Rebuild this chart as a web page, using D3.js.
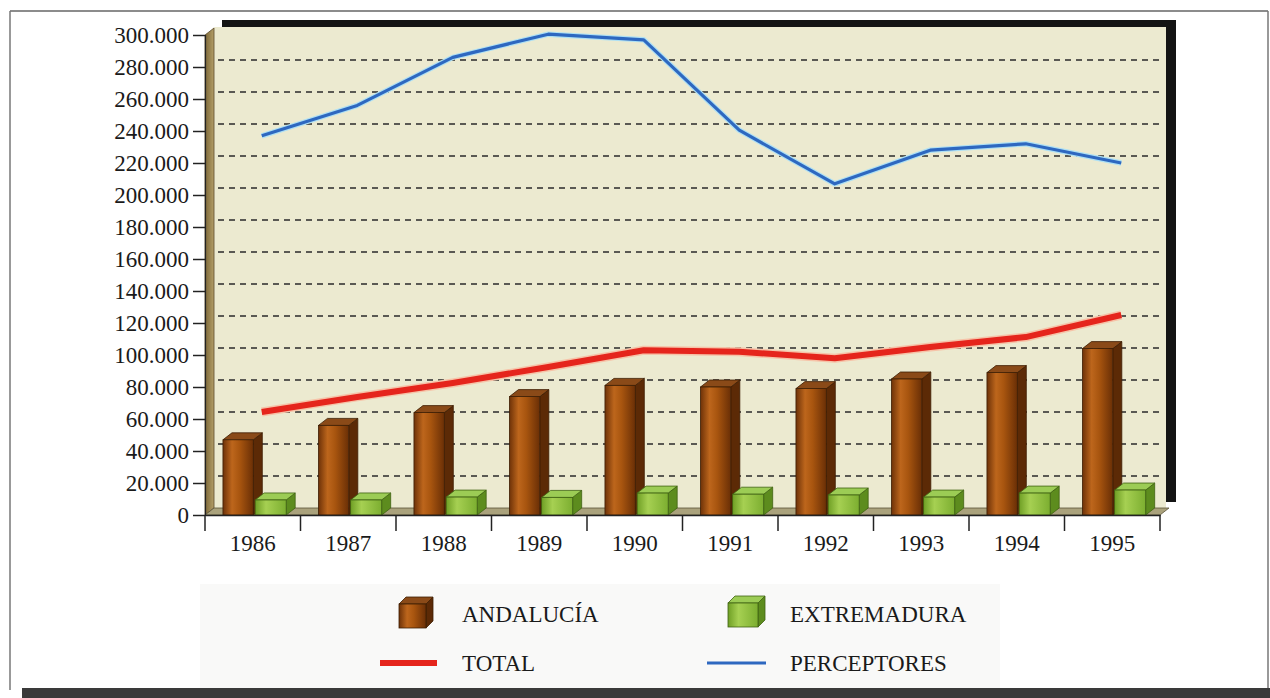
<!DOCTYPE html>
<html>
<head>
<meta charset="utf-8">
<script src="https://cdn.jsdelivr.net/npm/d3@7"></script>
<style>
  html, body { margin: 0; padding: 0; background: #ffffff; }
  svg { display: block; }
  text { font-family: "Liberation Serif", "DejaVu Serif", serif; fill: #1a1a1a; }
</style>
</head>
<body>
<svg id="chart" width="1270" height="698"></svg>
<script>
const years = ["1986","1987","1988","1989","1990","1991","1992","1993","1994","1995"];
const andalucia   = [47000, 56000, 64000, 74000, 81000, 80000, 79000, 85000, 89000, 104000];
const extremadura = [9400, 9400, 11200, 11000, 13700, 13000, 12500, 11200, 13700, 15600];
const total       = [64400, 73800, 82500, 92500, 103000, 102000, 98000, 105000, 111200, 125000];
const perceptores = [237000, 256000, 286000, 300500, 297000, 240500, 207000, 228000, 232000, 220000];
const yTicks = [0, 20000, 40000, 60000, 80000, 100000, 120000, 140000, 160000, 180000, 200000, 220000, 240000, 260000, 280000, 300000];
const legendLabels = ["ANDALUCÍA", "EXTREMADURA", "TOTAL", "PERCEPTORES"];

const svg = d3.select("#chart");
const esLocale = d3.formatLocale({ decimal: ",", thousands: ".", grouping: [3], currency: ["", "€"] });
const fmt = esLocale.format(",d");

const x = d3.scaleBand().domain(years).range([205, 1160]).padding(0);
const y = d3.scaleLinear().domain([0, 300000]).range([515, 35]);
const bw = x.bandwidth();
const DX = 9, DY = 7;
const FS = 23;

const defs = svg.append("defs");
function hGrad(id, stops) {
  const g = defs.append("linearGradient").attr("id", id).attr("x1", "0%").attr("x2", "100%").attr("y1", "0%").attr("y2", "0%");
  stops.forEach(s => g.append("stop").attr("offset", s[0]).attr("stop-color", s[1]));
}
hGrad("brownFront", [["0%", "#6e3208"], ["30%", "#bd661c"], ["55%", "#a8550f"], ["100%", "#6a2f06"]]);
hGrad("greenFront", [["0%", "#6f9f25"], ["35%", "#a6d052"], ["100%", "#7cae30"]]);
hGrad("leftWall", [["0%", "#7d6838"], ["100%", "#b39e68"]]);

// outer frame
svg.append("line").attr("x1", 10).attr("x2", 1268).attr("y1", 11).attr("y2", 11).attr("stroke", "#666").attr("stroke-width", 1.5);
svg.append("line").attr("x1", 10).attr("x2", 10).attr("y1", 11).attr("y2", 690).attr("stroke", "#777").attr("stroke-width", 1.5);
svg.append("line").attr("x1", 1268).attr("x2", 1268).attr("y1", 11).attr("y2", 690).attr("stroke", "#777").attr("stroke-width", 1.5);
svg.append("rect").attr("x", 22).attr("y", 688).attr("width", 1248).attr("height", 10).attr("fill", "#3a3a3a");

// legend background
svg.append("rect").attr("x", 200).attr("y", 584).attr("width", 800).attr("height", 104).attr("fill", "#f9f9f8");

// back wall shadow & wall
svg.append("rect").attr("x", 222).attr("y", 20).attr("width", 954).attr("height", 482).attr("fill", "#141414");
svg.append("rect").attr("x", 214).attr("y", 27).attr("width", 952).attr("height", 481).attr("fill", "#ecead0");

// gridlines on back wall
svg.append("g").selectAll("line").data(yTicks.filter(v => v > 0 && v < 300000)).join("line")
  .attr("x1", 218).attr("x2", 1163)
  .attr("y1", d => y(d) - DY).attr("y2", d => y(d) - DY)
  .attr("stroke", "#2a2a2a").attr("stroke-width", 1.7).attr("stroke-dasharray", "6,5");

// left wall
svg.append("polygon")
  .attr("points", [[205, y(300000)], [214, y(300000) - DY], [214, y(0) - DY], [205, y(0)]].map(p => p.join(",")).join(" "))
  .attr("fill", "url(#leftWall)").attr("stroke", "#5a4a28").attr("stroke-width", 0.8);

// floor
svg.append("polygon")
  .attr("points", [[205, y(0)], [1160, y(0)], [1169, y(0) - DY], [214, y(0) - DY]].map(p => p.join(",")).join(" "))
  .attr("fill", "#aaa27c").attr("stroke", "#5a5438").attr("stroke-width", 0.8);

// 3D bars
function bar3d(g, x0, w, v, front, side, top, edge) {
  const yt = y(v), yb = y(0);
  g.append("polygon").attr("points", [[x0 + w, yb], [x0 + w + DX, yb - DY], [x0 + w + DX, yt - DY], [x0 + w, yt]].map(p => p.join(",")).join(" "))
    .attr("fill", side).attr("stroke", edge).attr("stroke-width", 0.8);
  g.append("polygon").attr("points", [[x0, yt], [x0 + DX, yt - DY], [x0 + w + DX, yt - DY], [x0 + w, yt]].map(p => p.join(",")).join(" "))
    .attr("fill", top).attr("stroke", edge).attr("stroke-width", 0.8);
  g.append("rect").attr("x", x0).attr("y", yt).attr("width", w).attr("height", yb - yt)
    .attr("fill", front).attr("stroke", edge).attr("stroke-width", 0.8);
}
const barsG = svg.append("g");
years.forEach((yr, i) => {
  const gx = x(yr);
  bar3d(barsG, gx + bw * 0.188, bw * 0.318, andalucia[i], "url(#brownFront)", "#5c2a06", "#8a4a18", "#3e1e04");
  bar3d(barsG, gx + bw * 0.525, bw * 0.325, extremadura[i], "url(#greenFront)", "#5d8c1e", "#9ccc55", "#3f6212");
});

// lines
const lx = (d, i) => x(years[i]) + bw / 2 + DX;
const lineGen = d3.line().x((d, i) => lx(d, i)).y(d => y(d));
svg.append("path").attr("d", lineGen(total)).attr("fill", "none").attr("stroke", "#f6c3a8").attr("stroke-width", 9).attr("stroke-linejoin", "round");
svg.append("path").attr("d", lineGen(total)).attr("fill", "none").attr("stroke", "#e5251c").attr("stroke-width", 6).attr("stroke-linejoin", "round");
svg.append("path").attr("d", lineGen(perceptores)).attr("fill", "none").attr("stroke", "#aee0f4").attr("stroke-width", 5.5).attr("stroke-linejoin", "round");
svg.append("path").attr("d", lineGen(perceptores)).attr("fill", "none").attr("stroke", "#2e68c0").attr("stroke-width", 3.2).attr("stroke-linejoin", "round");

// Y axis
const yAxis = d3.axisLeft(y).tickValues(yTicks).tickFormat(fmt).tickSize(12).tickPadding(4);
const yg = svg.append("g").attr("transform", "translate(205,0)").call(yAxis);
yg.select(".domain").attr("stroke", "#222").attr("stroke-width", 1.2);
yg.selectAll(".tick line").attr("stroke", "#222").attr("stroke-width", 1.5);
yg.selectAll(".tick text").attr("font-size", FS).attr("font-family", "Liberation Serif, serif").attr("fill", "#1a1a1a");

// X axis
const xAxis = d3.axisBottom(x).tickSize(0).tickPadding(20);
const xg = svg.append("g").attr("transform", `translate(0,${y(0)})`).call(xAxis);
xg.select(".domain").attr("stroke", "#222").attr("stroke-width", 1.5);
xg.selectAll(".tick text").attr("font-size", FS).attr("font-family", "Liberation Serif, serif").attr("fill", "#1a1a1a");
const bounds = years.map(yr => x(yr)).concat([x(years[years.length - 1]) + bw]);
xg.append("g").selectAll("line").data(bounds).join("line")
  .attr("x1", d => d).attr("x2", d => d).attr("y1", 0).attr("y2", 16)
  .attr("stroke", "#222").attr("stroke-width", 1.5);

// legend
function cube(gx, gy, w, h, front, side, top, edge) {
  const d = 7;
  svg.append("polygon").attr("points", [[gx + w, gy + d], [gx + w + d, gy], [gx + w + d, gy + h - d], [gx + w, gy + h]].map(p => p.join(",")).join(" ")).attr("fill", side).attr("stroke", edge).attr("stroke-width", 0.8);
  svg.append("polygon").attr("points", [[gx, gy + d], [gx + d, gy], [gx + w + d, gy], [gx + w, gy + d]].map(p => p.join(",")).join(" ")).attr("fill", top).attr("stroke", edge).attr("stroke-width", 0.8);
  svg.append("rect").attr("x", gx).attr("y", gy + d).attr("width", w).attr("height", h - d).attr("fill", front).attr("stroke", edge).attr("stroke-width", 0.8);
}
cube(399, 597, 27, 31, "url(#brownFront)", "#5c2a06", "#8a4a18", "#3e1e04");
cube(728, 596, 30, 31, "url(#greenFront)", "#5d8c1e", "#9ccc55", "#3f6212");
svg.append("line").attr("x1", 380).attr("x2", 437).attr("y1", 663).attr("y2", 663).attr("stroke", "#e5251c").attr("stroke-width", 6);
svg.append("line").attr("x1", 707).attr("x2", 766).attr("y1", 663).attr("y2", 663).attr("stroke", "#2e68c0").attr("stroke-width", 3);
const legPos = [[462, 622], [790, 622], [462, 671], [790, 671]];
svg.append("g").selectAll("text").data(legendLabels).join("text")
  .attr("x", (d, i) => legPos[i][0]).attr("y", (d, i) => legPos[i][1])
  .attr("font-size", FS).text(d => d);
</script>
</body>
</html>
